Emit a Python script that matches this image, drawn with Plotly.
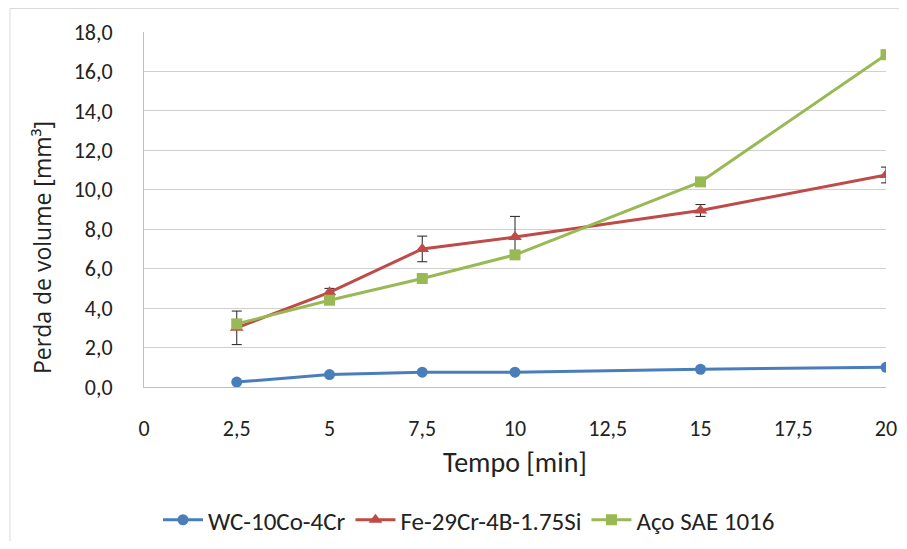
import plotly.graph_objects as go

tempo = [2.5, 5, 7.5, 10, 15, 20]
wc = [0.25, 0.63, 0.75, 0.75, 0.9, 1.0]
fe = [3.0, 4.8, 7.0, 7.6, 8.95, 10.75]
fe_err = [0.85, 0.2, 0.65, 1.05, 0.3, 0.4]
aco = [3.2, 4.4, 5.5, 6.7, 10.4, 16.85]
names = ["WC-10Co-4Cr", "Fe-29Cr-4B-1.75Si", "Aço SAE 1016"]
x_ticks = [0, 2.5, 5, 7.5, 10, 12.5, 15, 17.5, 20]
y_ticks = [0, 2, 4, 6, 8, 10, 12, 14, 16, 18]
x_title = "Tempo [min]"
y_title = "Perda de volume [mm³]"

fig = go.Figure()
fig.add_trace(go.Scatter(x=tempo, y=wc, name=names[0], mode="lines+markers",
                         line=dict(color="#4A7EBB", width=3),
                         marker=dict(symbol="circle", size=11, color="#4A7EBB")))
fig.add_trace(go.Scatter(x=tempo, y=fe, name=names[1], mode="lines+markers",
                         line=dict(color="#BE4B48", width=3),
                         marker=dict(symbol="triangle-up", size=12, color="#BE4B48"),
                         error_y=dict(type="data", array=fe_err, color="#222222", thickness=1, width=5)))
fig.add_trace(go.Scatter(x=tempo, y=aco, name=names[2], mode="lines+markers",
                         line=dict(color="#98B954", width=3),
                         marker=dict(symbol="square", size=11, color="#98B954")))

tick_font = dict(family="Carlito, Lato, sans-serif", size=22, color="#222222")

# page body has an 8px margin: figure coords = screen coords - 8
W, H = 891, 533
L, R, T, B = 136, 878, 24, 379
pw, ph = R - L, B - T


def px(x):
    return (x - 8 - L) / pw


def py(y):
    return (B - (y - 8)) / ph


fig.update_layout(
    width=W, height=H,
    margin=dict(l=L, r=W - R, t=T, b=H - B, autoexpand=False),
    paper_bgcolor="white", plot_bgcolor="white",
    separators=",.",
    showlegend=True,
    legend=dict(orientation="h", x=px(469), xanchor="center",
                y=py(520), yanchor="middle",
                font=dict(family="Carlito, Lato, sans-serif", size=25, color="#222222"),
                itemwidth=40, tracegroupgap=0),
    xaxis=dict(range=[0, 20], tickvals=x_ticks, showgrid=False, automargin=False,
               showline=True, linecolor="#bfbfbf", linewidth=1, ticks="",
               ticklabelstandoff=22,
               tickfont=tick_font, zeroline=False),
    yaxis=dict(range=[0, 18], tickvals=y_ticks, tickformat=".1f", showgrid=True,
               automargin=False,
               gridcolor="#d0d0d0", gridwidth=1, showline=True, linecolor="#bfbfbf",
               linewidth=1, ticks="", tickfont=tick_font, zeroline=False,
               ticklabelstandoff=26),
)

fig.add_annotation(text=x_title, xref="paper", yref="paper", x=px(515), y=py(462),
                   xanchor="center", yanchor="middle", showarrow=False,
                   font=dict(family="Carlito, Lato, sans-serif", size=28, color="#222222"))
fig.add_annotation(text=y_title, xref="paper", yref="paper", x=px(42), y=py(248),
                   xanchor="center", yanchor="middle", showarrow=False, textangle=-90,
                   font=dict(family="Open Sans, sans-serif", size=23, color="#222222"))

fig.add_shape(type="line", xref="paper", yref="paper",
              x0=(2 - L) / pw, x1=(2 - L) / pw, y0=(B - H) / ph, y1=(B - 0.5) / ph,
              line=dict(color="#d9d9d9", width=1), layer="below")
fig.add_shape(type="line", xref="paper", yref="paper",
              x0=(2 - L) / pw, x1=(W - L) / pw, y0=(B - 0.5) / ph, y1=(B - 0.5) / ph,
              line=dict(color="#d9d9d9", width=1), layer="below")

fig.write_html("out.html")
